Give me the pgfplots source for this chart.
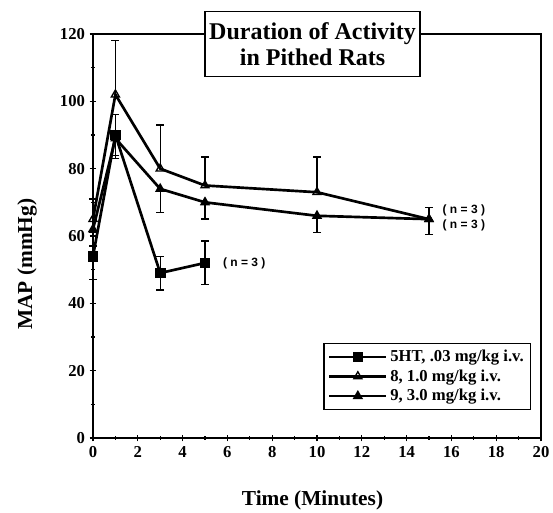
\documentclass[border=0pt]{standalone}
\usepackage{fontspec}
\setmainfont{Liberation Serif}
\newfontfamily\helv{Liberation Sans}
\usepackage{pgfplots}
\pgfplotsset{compat=1.18}
\begin{document}
\begin{tikzpicture}
\begin{axis}[
scale only axis,
width=336pt, height=303pt,
xmin=0, xmax=20, ymin=0, ymax=120,
xtick={0,2,...,20}, ytick={0,20,...,120},
minor x tick num=1, minor y tick num=1,
tick align=center,
major tick length=5pt, minor tick length=3pt,
tick style={line width=1pt,black},
axis line style={line width=1.2pt},
axis x line*=bottom, axis y line*=left,
tick label style={font=\fontsize{12.5}{14}\selectfont\bfseries},
/pgf/number format/assume math mode=true,
xlabel={Time (Minutes)},
ylabel={MAP (mmHg)},
label style={font=\fontsize{16}{18}\selectfont\bfseries},
xlabel style={at={(axis description cs:0.49,-0.12)},anchor=north},
ylabel style={at={(axis description cs:-0.115,0.43)},anchor=south},
legend style={at={(axis description cs:0.978,0.069)},anchor=south east,
  font=\fontsize{12.5}{14}\selectfont\bfseries, draw=black, line width=1pt,
  row sep=0.5pt, inner sep=3pt},
legend cell align=left,
legend image code/.code={\draw[mark repeat=2,mark phase=2,#1] plot coordinates {(0cm,0cm) (0.75cm,0cm) (1.5cm,0cm)};},
clip=false,
]
% 5HT
\addplot[black, line width=2pt, mark=square*, mark size=3.5pt, mark options={solid,fill=black,line width=1pt},
  error bars/.cd, y dir=both, y explicit, error bar style={line width=1pt},
  error mark options={rotate=90,mark size=3pt,line width=1pt}]
coordinates {(0,54) +- (0,7) (1,90) +- (0,6) (3,49) +- (0,5) (5,52) +- (0,6.5)};
\addlegendentry{5HT, .03 mg/kg i.v.}
% compound 8
\addplot[black, line width=2pt, mark=triangle, mark size=3.5pt, mark options={solid,fill=white,line width=1pt},
  error bars/.cd, y dir=plus, y explicit, error bar style={line width=1pt},
  error mark options={rotate=90,mark size=3pt,line width=1pt}]
coordinates {(0,65) +- (0,6) (1,102) +- (0,16) (3,80) +- (0,13) (5,75) +- (0,8.5) (10,73) +- (0,10.5) (15,65) +- (0,3.5)};
\addlegendentry{8, 1.0 mg/kg i.v.}
% compound 9
\addplot[black, line width=2pt, mark=triangle*, mark size=3.5pt, mark options={solid,fill=black,line width=1pt},
  error bars/.cd, y dir=minus, y explicit, error bar style={line width=1pt},
  error mark options={rotate=90,mark size=3pt,line width=1pt}]
coordinates {(0,62) +- (0,5) (1,89) +- (0,6) (3,74) +- (0,7) (5,70) +- (0,5) (10,66) +- (0,5) (15,65) +- (0,4.5)};
\addlegendentry{9, 3.0 mg/kg i.v.}
% top and right frame
\draw[line width=1.2pt] (rel axis cs:0,1) -- (rel axis cs:1,1) -- (rel axis cs:1,0);
\node[font=\helv\fontsize{9}{10}\selectfont\bfseries, anchor=west] at (axis cs:5.6,52) {( n = 3 )};
\node[font=\helv\fontsize{9}{10}\selectfont\bfseries, anchor=west] at (axis cs:15.4,67.5) {( n = 3 )};
\node[font=\helv\fontsize{9}{10}\selectfont\bfseries, anchor=west] at (axis cs:15.4,63) {( n = 3 )};
\node[draw=black, line width=1.2pt, fill=white, align=center, inner xsep=3pt, inner ysep=8pt,
  font=\fontsize{18}{20}\selectfont\bfseries] at (rel axis cs:0.49,0.975) {Duration of Activity\\in Pithed Rats};
\end{axis}
\pgfresetboundingbox
\path (-69.75pt,-56.25pt) rectangle (345pt,328.5pt);
\end{tikzpicture}
\end{document}
